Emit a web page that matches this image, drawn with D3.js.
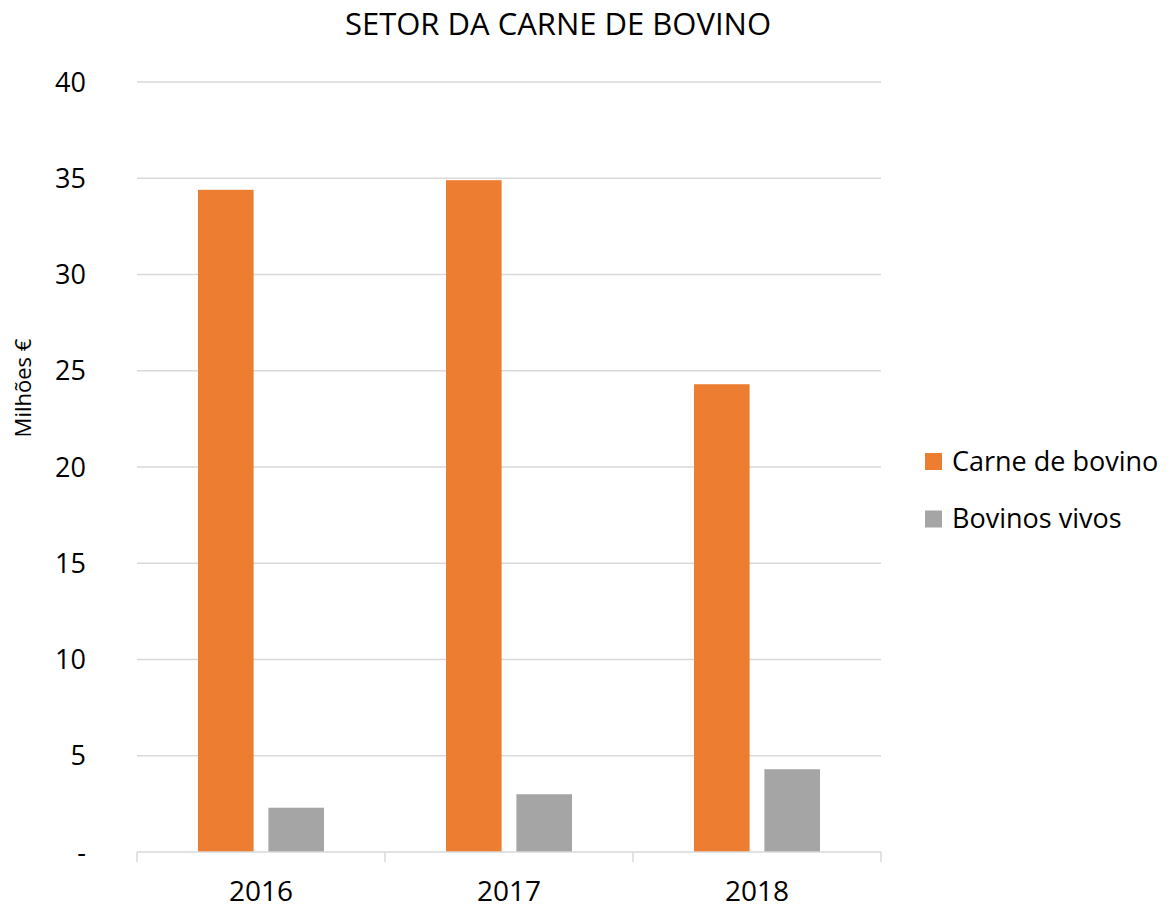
<!DOCTYPE html>
<html>
<head>
<meta charset="utf-8">
<script src="https://cdn.jsdelivr.net/npm/d3@7"></script>
<style>
  body { margin: 0; background: #fff; }
  text { font-family: "Open Sans", sans-serif; fill: #000; }
</style>
</head>
<body>
<svg width="1171" height="908"></svg>
<script>
var years = ['2016', '2017', '2018']
var seriesNames = ['Carne de bovino', 'Bovinos vivos']
var carne = [34.4, 34.9, 24.3]
var vivos = [2.3, 3.0, 4.3]
var yTicks = [0, 5, 10, 15, 20, 25, 30, 35, 40]
var colors = ['#ed7d31', '#a5a5a5']

;(function () {

  var svg = d3.select('svg')
  var plotLeft = 137, plotRight = 881, plotTop = 82, plotBottom = 852

  var x = d3.scaleBand().domain(years).range([plotLeft, plotRight])
  var x1 = d3.scaleBand().domain(seriesNames).range([61, x.bandwidth() - 61]).paddingInner(0.21)
  var y = d3.scaleLinear().domain([0, 40]).range([plotBottom, plotTop])

  // gridlines
  svg.append('g')
    .selectAll('line')
    .data(yTicks.slice(1))
    .enter().append('line')
    .attr('x1', plotLeft).attr('x2', plotRight)
    .attr('y1', function (d) { return y(d) }).attr('y2', function (d) { return y(d) })
    .attr('stroke', '#d9d9d9').attr('stroke-width', 1.5)

  // y axis labels
  svg.append('g')
    .selectAll('text')
    .data(yTicks)
    .enter().append('text')
    .attr('x', 86)
    .attr('y', function (d) { return y(d) + 9.5 })
    .attr('text-anchor', 'end')
    .style('font-size', '27px')
    .text(function (d) { return d === 0 ? '-' : d })

  // bars
  var rows = years.map(function (yr, i) { return { year: yr, values: [carne[i], vivos[i]] } })
  svg.append('g')
    .selectAll('g')
    .data(rows)
    .enter().append('g')
    .attr('transform', function (d) { return 'translate(' + x(d.year) + ',0)' })
    .selectAll('rect')
    .data(function (d) { return d.values.map(function (v, j) { return { name: seriesNames[j], value: v, color: colors[j] } }) })
    .enter().append('rect')
    .attr('x', function (d) { return x1(d.name) })
    .attr('width', x1.bandwidth())
    .attr('y', function (d) { return y(d.value) })
    .attr('height', function (d) { return plotBottom - y(d.value) })
    .attr('fill', function (d) { return d.color })

  // x axis
  var xAxis = svg.append('g')
  xAxis.append('line')
    .attr('x1', plotLeft).attr('x2', plotRight).attr('y1', plotBottom).attr('y2', plotBottom)
    .attr('stroke', '#d9d9d9').attr('stroke-width', 1.5)
  xAxis.selectAll('.tick')
    .data(years.map(function (d) { return x(d) }).concat([plotRight]))
    .enter().append('line')
    .attr('x1', function (d) { return d }).attr('x2', function (d) { return d })
    .attr('y1', plotBottom).attr('y2', plotBottom + 10)
    .attr('stroke', '#d9d9d9').attr('stroke-width', 1.5)
  xAxis.selectAll('text')
    .data(years)
    .enter().append('text')
    .attr('x', function (d) { return x(d) + x.bandwidth() / 2 })
    .attr('y', 901)
    .attr('text-anchor', 'middle')
    .style('font-size', '28px')
    .text(function (d) { return d })

  // title
  svg.append('text')
    .attr('x', 558).attr('y', 35)
    .attr('text-anchor', 'middle')
    .style('font-size', '31px')
    .text('SETOR DA CARNE DE BOVINO')

  // y label
  svg.append('text')
    .attr('transform', 'translate(31,388) rotate(-90)')
    .attr('text-anchor', 'middle')
    .style('font-size', '22px')
    .text('Milhões €')

  // legend
  var legend = svg.append('g')
    .selectAll('g')
    .data(seriesNames)
    .enter().append('g')
    .attr('transform', function (d, i) { return 'translate(925,' + (453 + i * 57.5) + ')' })
  legend.append('rect')
    .attr('width', 17).attr('height', 17)
    .attr('fill', function (d, i) { return colors[i] })
  legend.append('text')
    .attr('x', 27).attr('y', 17.5)
    .style('font-size', '27px')
    .text(function (d) { return d })

})()
</script>
</body>
</html>
